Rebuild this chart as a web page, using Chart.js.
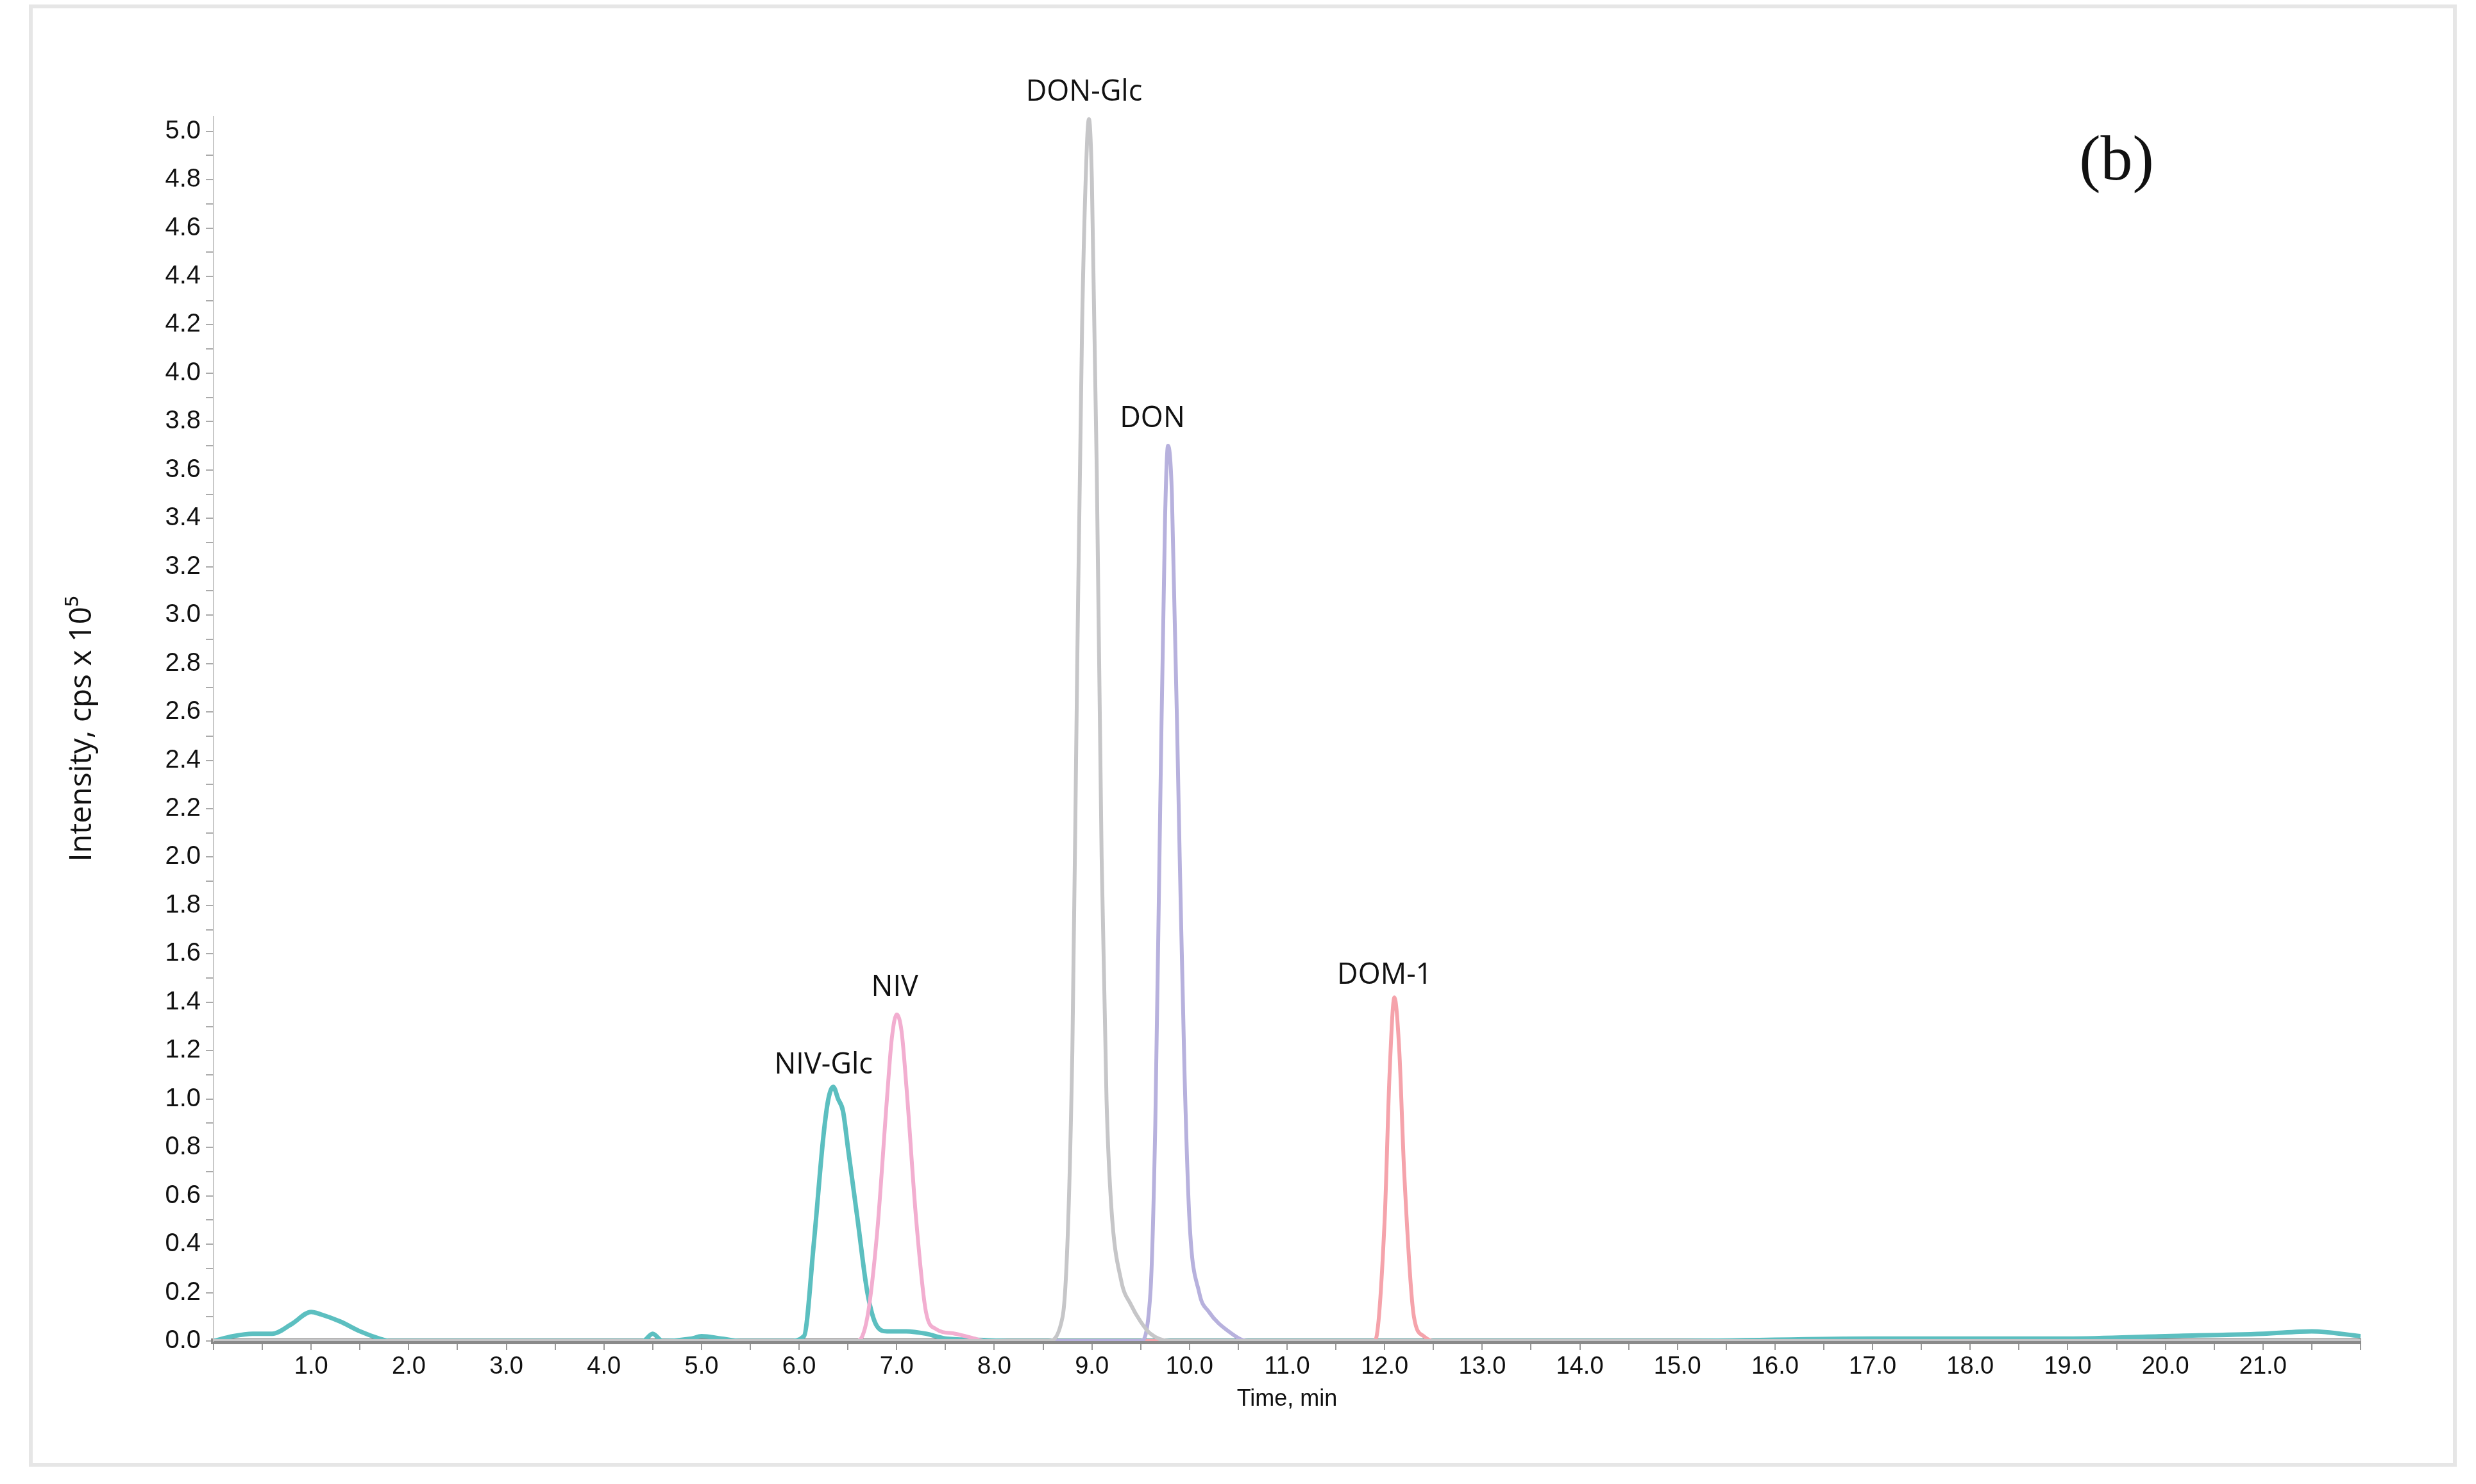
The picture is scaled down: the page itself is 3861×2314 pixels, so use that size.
<!DOCTYPE html>
<html><head><meta charset="utf-8">
<script src="https://cdn.jsdelivr.net/npm/chart.js@4"></script>
<style>
html,body{margin:0;padding:0;background:#fff;}
#frame{position:absolute;left:45px;top:7px;width:3786px;height:2280px;border:6px solid #e6e6e6;box-sizing:border-box;}
#c{position:absolute;left:0;top:0;}
</style></head><body>
<div id="frame"></div>
<canvas id="c" width="3861" height="2314"></canvas>
<script>
const nivGlcT=[0,0.2,0.4,0.6,0.8,1.0,1.1,1.3,1.5,1.7,1.8,4.4,4.5,4.6,4.9,5.0,5.2,5.4,5.9,6.05,6.15,6.25,6.3,6.35,6.4,6.45,6.5,6.6,6.7,6.8,6.9,7.1,7.3,7.5,7.8,8.2,10,15,17,19,20,21,21.5,22];
const nivGlcY=[0,0.02,0.03,0.03,0.07,0.12,0.11,0.08,0.04,0.01,0,0,0.03,0,0.01,0.02,0.01,0,0,0.02,0.4,0.85,1.0,1.05,1.0,0.95,0.8,0.5,0.2,0.06,0.04,0.04,0.03,0.01,0.005,0,0,0,0.01,0.01,0.02,0.03,0.04,0.02];
const nivT=[0,6.6,6.7,6.8,6.9,6.95,7.0,7.05,7.1,7.2,7.3,7.4,7.6,7.8,7.9,22];
const nivY=[0,0,0.1,0.45,1.0,1.25,1.35,1.28,1.05,0.5,0.12,0.05,0.03,0.01,0,0];
const donGlcT=[0,8.55,8.7,8.8,8.85,8.9,8.95,8.97,9.0,9.05,9.1,9.15,9.2,9.3,9.4,9.5,9.6,9.8,22];
const donGlcY=[0,0,0.1,1.2,2.8,4.2,4.95,5.05,4.8,3.6,2.0,1.0,0.55,0.25,0.15,0.08,0.03,0,0];
const donT=[0,9.5,9.6,9.65,9.7,9.75,9.78,9.82,9.9,9.95,10.0,10.1,10.2,10.4,10.6,22];
const donY=[0,0,0.2,0.9,2.2,3.4,3.7,3.5,2.0,1.1,0.5,0.2,0.12,0.04,0,0];
const domT=[0,11.9,12.0,12.05,12.1,12.15,12.2,12.3,12.4,12.5,22];
const domY=[0,0,0.5,1.1,1.42,1.2,0.7,0.1,0.02,0,0];
const peakNames=["NIV-Glc","NIV","DON-Glc","DON","DOM-1"];
const peakLabelX=[6.25,6.98,8.92,9.62,12.0];
const peakLabelY=[1.14,1.46,5.16,3.81,1.51];
const panelLabel="(b)", panelX=19.5, panelY=4.87;

const pts=(t,y)=>t.map((v,i)=>({x:v,y:y[i]}));
const ds=(t,y,c,w)=>({data:pts(t,y),borderColor:c,borderWidth:w,pointRadius:0,cubicInterpolationMode:'monotone',fill:false});

const labelPlugin={id:'lbl',afterDatasetsDraw(ch){
  const {ctx,scales:{x,y}}=ch;ctx.save();
  ctx.fillStyle='#111';ctx.textAlign='center';ctx.textBaseline='middle';
  ctx.font='45px "Open Sans"';
  peakNames.forEach((n,i)=>ctx.fillText(n,x.getPixelForValue(peakLabelX[i]),y.getPixelForValue(peakLabelY[i])));
  ctx.font='100px "Liberation Serif"';
  ctx.fillText(panelLabel,x.getPixelForValue(panelX),y.getPixelForValue(panelY));
  ctx.restore();}};

new Chart(document.getElementById('c'),{
 type:'line',
 data:{datasets:[
  ds(donGlcT,donGlcY,'#c6c6c8',6),
  ds(donT,donY,'#b7b1dd',6),
  ds(domT,domY,'#f5a3ab',6),
  ds(nivT,nivY,'#f2aed0',6),
  ds(nivGlcT,nivGlcY,'#5cbfc0',7)]},
 options:{responsive:false,animation:false,
  layout:{padding:{top:182,right:180,left:0,bottom:110}},
  plugins:{legend:{display:false},tooltip:{enabled:false}},
  scales:{
   x:{type:'linear',min:0,max:22,
     afterFit:s=>{s.height=113;},
     afterBuildTicks:s=>{s.ticks=[];for(let i=0;i<=44;i++)s.ticks.push({value:i/2});},
     grid:{display:true,drawOnChartArea:false,tickLength:14,color:'#999',lineWidth:2},
     border:{color:'#8a8a8a',width:9},
     ticks:{autoSkip:false,maxRotation:0,padding:4,color:'#111',font:{family:'Liberation Sans',size:38},
       callback:v=>(v>0&&v<22&&Math.abs(v-Math.round(v))<1e-6)?v.toFixed(1):''},
     title:{display:true,text:'Time, min',color:'#111',font:{family:'Liberation Sans',size:36},padding:{top:0,bottom:0}}},
   y:{type:'linear',min:0,max:5.06,
     afterFit:s=>{s.width=333;},
     afterBuildTicks:s=>{s.ticks=[];for(let i=0;i<=50;i++)s.ticks.push({value:i/10});},
     grid:{display:true,drawOnChartArea:false,tickLength:12,color:'#aaa',lineWidth:2},
     border:{color:'#c8c8c8',width:2},
     ticks:{autoSkip:false,padding:8,color:'#111',font:{family:'Liberation Sans',size:40},
       callback:v=>(Math.round(v*10)%2===0)?v.toFixed(1):''},
     title:{display:true,text:'Intensity, cps x 10⁵',color:'#111',font:{family:'Open Sans',size:48},padding:{top:100,bottom:0}}}
  }},
 plugins:[labelPlugin]});
</script></body></html>
